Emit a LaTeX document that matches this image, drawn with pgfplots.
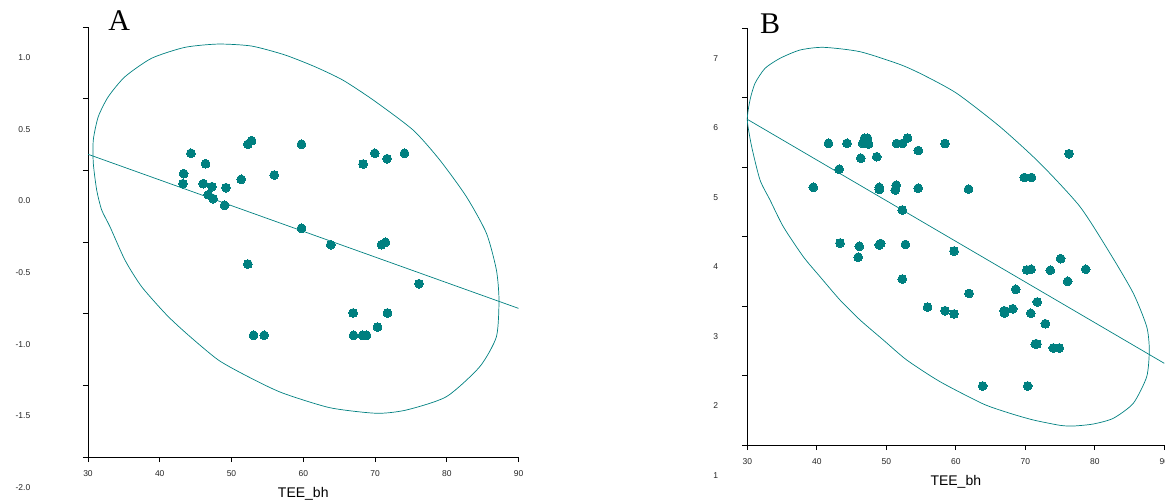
\documentclass[border=0pt]{standalone}
\usepackage{pgfplots}
\pgfplotsset{compat=1.18}
\usepackage{fontspec}
\setmainfont{Liberation Sans}
\newfontfamily\serifA{Liberation Serif}
\definecolor{tealc}{RGB}{0,128,128}
\pgfplotsset{
  myax/.style={
    scale only axis,
    axis lines=left,
    axis line style={-, black, line width=0.8bp},
    tick align=outside,
    major tick length=5bp,
    tick style={black, line width=0.8bp},
    xmin=30, xmax=90,
    xtick={30,40,50,60,70,80,90},
    clip=false,
    /pgf/number format/assume math mode=true,
    xticklabel={\pgfmathprintnumber[assume math mode=true]{\tick}},
    ticklabel style={font=\fontsize{8.5bp}{10bp}\selectfont, text=black!85},
    xticklabel style={anchor=north, inner sep=0pt, yshift=-8.5bp},
    yticklabel style={anchor=east, inner sep=0pt},
    xlabel={TEE\_bh},
    xlabel style={at={(axis description cs:0.5,0)}, anchor=center, yshift=-37bp, font=\fontsize{14bp}{16bp}\selectfont},
  }
}
\begin{document}
\begin{tikzpicture}
% Panel A
\begin{axis}[myax,
  at={(88bp,45bp)}, anchor=south west,
  width=430.5bp, height=430bp,
  ymin=-2, ymax=1,
  ytick={-2,-1.5,-1,-0.5,0,0.5,1},
  yticklabel={\pgfmathprintnumber[fixed, fixed zerofill, precision=1, assume math mode=true]{\tick}},
  yticklabel style={xshift=-52.5bp, yshift=-30.5bp},
]
\addplot[tealc, line width=0.7bp, smooth cycle, tension=0.4] coordinates {
(30.74,0.049) (30.74,0.212) (31.43,0.374) (32.83,0.514) (35.15,0.653)
(38.87,0.782) (43.51,0.858) (48.15,0.881) (52.80,0.867) (57.44,0.805)
(61.62,0.723) (65.5,0.63) (69.74,0.491) (75.31,0.281) (79.03,0.072)
(82.74,-0.184) (85.53,-0.439) (86.92,-0.695) (87.28,-0.905) (86.92,-1.161)
(84.60,-1.370) (79.96,-1.579) (74.39,-1.672) (70.21,-1.695) (63.70,-1.656)
(56.98,-1.551) (52.33,-1.440) (48.15,-1.323) (43.97,-1.149) (40.96,-1.009)
(37.48,-0.812) (35.15,-0.626) (33.06,-0.393) (31.91,-0.277) (31.21,-0.137)
};
\addplot[tealc, line width=0.7bp] coordinates {(30,0.112) (90,-0.963)};
\addplot[only marks, mark=*, mark size=4.4bp, mark options={fill=tealc, draw=tealc, line width=0pt}] coordinates {
(44.35,0.119) (46.39,0.046) (43.33,-0.023) (43.23,-0.093) (46.06,-0.093)
(47.27,-0.114) (49.22,-0.121) (46.76,-0.170) (47.45,-0.198) (49.04,-0.244)
(51.35,-0.063) (52.28,0.182) (52.80,0.207) (55.95,-0.033) (59.76,0.182)
(59.76,-0.404) (63.84,-0.519) (52.28,-0.654) (53.08,-1.151) (54.55,-1.151)
(68.34,0.044) (69.97,0.119) (71.69,0.081) (74.11,0.119) (70.90,-0.519)
(71.46,-0.502) (76.14,-0.791) (66.95,-0.995) (71.74,-0.995) (70.35,-1.093)
(67.01,-1.151) (68.26,-1.151) (68.82,-1.151)
};
\end{axis}
% Panel B
\begin{axis}[myax,
  at={(747.3bp,57bp)}, anchor=south west,
  width=417bp, height=417bp,
  ymin=1, ymax=7,
  ytick={1,2,3,4,5,6,7},
  yticklabel={\pgfmathprintnumber[assume math mode=true]{\tick}},
  yticklabel style={xshift=-24bp, yshift=-30.5bp},
]
\addplot[tealc, line width=0.7bp, smooth cycle, tension=0.4] coordinates {
(30.00,5.676) (30.39,5.964) (31.11,6.204) (32.55,6.420) (34.71,6.564)
(37.58,6.683) (40.94,6.722) (46.22,6.659) (51.97,6.475) (55.32,6.324)
(60.13,6.060) (66.35,5.580) (72.12,5.053) (77.87,4.429) (82.19,3.758)
(85.54,3.183) (87.47,2.702) (87.84,2.367) (87.47,1.983) (85.54,1.600)
(82.66,1.384) (79.78,1.302) (76.91,1.273) (74.99,1.283) (71.15,1.360)
(67.80,1.456) (63.96,1.590) (57.73,1.911) (52.94,2.223) (49.57,2.511)
(46.22,2.799) (43.34,3.086) (40.46,3.422) (38.06,3.709) (35.18,4.141)
(33.27,4.525) (31.83,4.813) (30.63,5.292)
};
\addplot[tealc, line width=0.7bp] coordinates {(30,5.686) (90,2.175)};
\addplot[only marks, mark=*, mark size=4.4bp, mark options={fill=tealc, draw=tealc, line width=0pt}] coordinates {
(41.68,5.341) (44.35,5.341) (46.86,5.413) (47.29,5.413) (46.60,5.341)
(47.44,5.331) (51.50,5.338) (52.30,5.338) (53.05,5.417) (54.60,5.237)
(58.45,5.338) (46.33,5.127) (48.62,5.148) (43.22,4.968) (39.50,4.708)
(48.99,4.708) (48.99,4.676) (51.42,4.738) (51.28,4.669) (54.59,4.695)
(61.83,4.681) (52.30,4.381) (43.34,3.906) (46.12,3.859) (45.96,3.702)
(48.99,3.878) (49.19,3.899) (52.75,3.885) (59.74,3.791) (52.30,3.388)
(61.91,3.181) (55.94,2.984) (58.45,2.932) (59.74,2.885) (69.86,4.849)
(70.89,4.849) (76.29,5.191) (70.24,3.518) (70.82,3.529) (73.60,3.514)
(75.09,3.681) (78.69,3.528) (76.10,3.355) (68.62,3.240) (71.71,3.058)
(66.96,2.932) (67.00,2.899) (68.19,2.960) (70.78,2.895) (72.88,2.745)
(71.44,2.453) (71.68,2.453) (74.03,2.396) (74.89,2.396) (63.87,1.849)
(70.35,1.849)
};
\end{axis}
\node[font=\serifA\fontsize{30bp}{30bp}\selectfont, inner sep=0pt] at (119.2bp,481.5bp) {A};
\node[font=\serifA\fontsize{30bp}{30bp}\selectfont, inner sep=0pt] at (770bp,477.8bp) {B};
\pgfresetboundingbox
\path[use as bounding box] (0,0) rectangle (1165bp,502bp);
\end{tikzpicture}
\end{document}
